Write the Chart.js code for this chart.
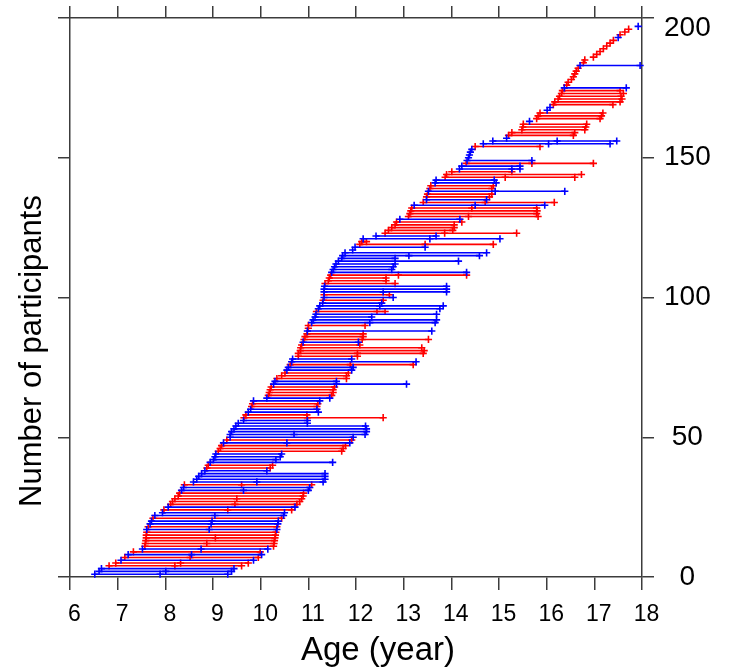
<!DOCTYPE html>
<html lang="en">
<head>
<meta charset="UTF-8">
<meta name="viewport" content="width=device-width, initial-scale=1.0">
<title>Participants by age</title>
<style>
    body { margin: 0; background-color: #fff; }
    canvas { display: block; }
</style>
<script src="https://cdn.jsdelivr.net/npm/chart.js"></script>
</head>
<body>

<canvas id="ageChart" width="734" height="669"></canvas>

<script>
// one entry per participant, row 1 at the bottom
// F = girls (red), M = boys (blue)
const sex = [
    "M","M","M","F","F","M","F","M","F","M",
    "F","F","F","F","F","F","M","F","M","M",
    "F","M","M","F","M","F","F","F","F","F",
    "M","M","F","M","M","M","M","M","F","F",
    "M","M","M","M","F","F","F","M","F","M",
    "M","M","M","M","M","M","F","F","M","M",
    "F","F","M","M","F","F","F","F","M","M",
    "F","F","F","M","M","F","M","M","F","F",
    "F","F","F","M","F","F","F","M","F","F",
    "M","M","M","M","F","M","M","M","F","M",
    "F","M","M","M","F","F","F","F","M","M",
    "M","M","M","M","M","M","M","M","F","F",
    "M","M","F","F","F","F","F","M","F","F",
    "F","F","M","F","M","F","F","M","F","F",
    "M","M","F","F","F","M","M","F","M","M",
    "M","M","M","F","M","M","M","F","F","F",
    "F","F","M","F","F","F","M","M","F","F",
    "F","F","F","F","M","F","F","F","F","F",
    "F","F","M","F","F","F","F","F","F","F",
    "F","F","M","F","F","F","M"
];

// age at first visit
const firstAge = [
    6.52, 6.61, 6.66, 6.82, 6.96, 7.07, 7.15, 7.22, 7.33, 7.52,
    7.57, 7.58, 7.59, 7.60, 7.60, 7.61, 7.61, 7.64, 7.68, 7.71,
    7.74, 7.78, 7.94, 7.97, 8.06, 8.11, 8.15, 8.20, 8.27, 8.30,
    8.34, 8.38, 8.40, 8.59, 8.66, 8.70, 8.76, 8.83, 8.87, 8.90,
    8.94, 9.01, 9.04, 9.06, 9.11, 9.15, 9.18, 9.22, 9.29, 9.36,
    9.36, 9.39, 9.44, 9.48, 9.53, 9.64, 9.65, 9.69, 9.74, 9.79,
    9.81, 9.83, 9.85, 10.13, 10.16, 10.18, 10.20, 10.22, 10.27, 10.30,
    10.34, 10.44, 10.51, 10.55, 10.58, 10.62, 10.65, 10.67, 10.79, 10.79,
    10.83, 10.84, 10.86, 10.89, 10.91, 10.93, 10.97, 10.98, 11.00, 11.00,
    11.07, 11.10, 11.14, 11.16, 11.17, 11.21, 11.24, 11.30, 11.31, 11.33,
    11.33, 11.33, 11.33, 11.34, 11.35, 11.42, 11.44, 11.47, 11.49, 11.52,
    11.55, 11.58, 11.63, 11.70, 11.72, 11.77, 11.93, 11.98, 12.08, 12.12,
    12.15, 12.42, 12.61, 12.68, 12.75, 12.82, 12.85, 12.92, 13.10, 13.13,
    13.15, 13.17, 13.22, 13.41, 13.48, 13.48, 13.50, 13.52, 13.55, 13.57,
    13.66, 13.68, 13.87, 13.90, 14.01, 14.17, 14.22, 14.31, 14.33, 14.36,
    14.38, 14.40, 14.43, 14.50, 14.67, 14.87, 15.16, 15.20, 15.27, 15.48,
    15.50, 15.51, 15.64, 15.79, 15.82, 15.86, 16.01, 16.07, 16.14, 16.17,
    16.24, 16.27, 16.31, 16.33, 16.37, 16.42, 16.45, 16.52, 16.56, 16.59,
    16.62, 16.66, 16.70, 16.77, 16.80, 16.98, 17.05, 17.12, 17.19, 17.26,
    17.33, 17.40, 17.50, 17.54, 17.64, 17.72, 17.92
];

// age at a middle visit (null = none)
const midAge = [
    7.89, 8.01, null, 8.20, 8.32, null, 8.52, 8.55, null, 8.75,
    null, 8.87, null, 9.05, null, null, 8.92, null, 8.96, 8.98,
    null, 9.04, null, 9.31, null, 9.46, null, 9.50, null, null,
    9.64, null, 9.60, 9.92, null, null, null, null, null, null,
    null, null, null, null, null, null, null, 10.55, null, null,
    10.70, null, null, null, null, null, 10.98, null, null, null,
    null, null, null, null, null, null, null, null, 11.59, null,
    null, null, null, null, null, 11.88, null, null, null, 12.03,
    null, null, null, null, 12.13, null, null, null, null, null,
    12.29, null, null, null, 12.44, null, 12.50, null, null, null,
    null, 12.57, null, null, null, null, null, 12.89, null, null,
    null, null, null, null, 13.11, null, null, null, 13.45, null,
    13.55, null, 13.86, null, null, null, null, null, 14.36, null,
    null, 14.43, 14.50, 14.71, null, null, null, 14.92, null, null,
    null, null, 15.13, null, null, 15.27, null, 15.69, null, null,
    null, null, null, null, 16.04, 16.22, null, null, null, null,
    null, null, null, null, null, null, null, null, null, null,
    null, null, null, null, null, null, null, null, null, null,
    null, null, null, null, null, null, null, null, null, null,
    null, null, null, null, null, null, null
];

// age at last visit (null = seen once)
const lastAge = [
    9.31, 9.39, 9.44, 9.60, 9.74, 9.85, 9.95, 10.02, 9.99, 10.15,
    10.27, 10.28, 10.29, 10.30, 10.31, 10.32, 10.34, 10.34, 10.36, 10.37,
    10.44, 10.48, 10.50, 10.65, 10.72, 10.76, 10.82, 10.86, 10.89, 10.90,
    11.00, 11.03, 11.07, 11.31, 11.35, 11.35, 11.35, 10.13, 10.20, 10.25,
    11.51, 10.32, 10.41, 10.44, 11.70, 11.73, 11.78, 11.87, 11.91, 11.94,
    12.19, 12.22, 12.22, 12.20, 10.98, 10.98, 12.57, 10.97, 11.21, 11.18,
    11.18, 11.20, 11.24, 11.45, 11.49, 11.52, 11.52, 11.55, 13.06, 11.59,
    11.80, 11.80, 11.84, 11.91, 11.94, 13.20, 13.26, 11.91, 12.03, 13.41,
    13.43, 13.38, 12.08, 12.05, 13.52, 12.15, 12.15, 13.59, null, 12.19,
    13.66, 13.69, 12.33, 13.69, 12.61, 13.76, 13.83, 12.54, 12.57, 12.78,
    12.70, 13.90, 13.90, 13.90, 12.82, 12.63, 12.63, 14.32, 14.32, 12.75,
    12.78, 12.82, 14.15, 12.82, 14.59, 14.74, null, 13.45, 14.88, 12.22,
    15.02, 13.68, 15.37, 14.03, 14.06, 14.06, 14.22, 14.18, 15.82, 15.79,
    15.80, 15.79, 15.96, 16.16, 14.74, 14.80, 14.85, 16.38, 14.85, 14.88,
    14.94, 14.90, 16.59, 16.73, 15.27, 15.44, 15.44, 16.98, 15.69, null,
    null, null, null, 15.86, 17.33, 17.47, null, 16.56, 16.59, 16.80,
    16.82, 16.84, null, 17.12, 17.15, 17.18, null, null, 17.39, 17.54,
    17.58, 17.56, 17.61, 17.54, 17.67, null, null, null, null, null,
    null, null, 17.96, null, null, null, null, null, null, null,
    null, null, null, null, null, null, null
];

const ageTicks = [6, 7, 8, 9, 10, 11, 12, 13, 14, 15, 16, 17, 18];
const countTicks = [0, 50, 100, 150, 200];
const xTitle = "Age (year)";
const yTitle = "Number of participants";

const RED = "rgb(255,0,0)";
const BLUE = "rgb(0,0,255)";
const AXIS = "#3c3c3c";
const FONT = "'Liberation Sans', Arial, sans-serif";

// each participant is one run of points on its row, then a gap
function buildSeries(code) {
    const pts = [];
    sex.forEach((s, i) => {
        if (s !== code) return;
        const row = i + 1;
        pts.push({ x: firstAge[i], y: row });
        if (midAge[i] !== null) pts.push({ x: midAge[i], y: row });
        if (lastAge[i] !== null) pts.push({ x: lastAge[i], y: row });
        pts.push({ x: firstAge[i], y: null });
    });
    return pts;
}

function series(label, code, color) {
    return {
        label: label,
        data: buildSeries(code),
        showLine: true,
        spanGaps: false,
        borderColor: color,
        backgroundColor: color,
        borderWidth: 1.6,
        pointStyle: "cross",
        pointRadius: 3.6,
        pointBorderWidth: 1.6,
        pointBorderColor: color,
        clip: false
    };
}

function setTicks(values) {
    return scale => { scale.ticks = values.map(v => ({ value: v })); };
}

const frame = { color: AXIS, width: 1.5 };
const marks = len => ({ drawOnChartArea: false, drawTicks: true, tickLength: len, color: AXIS, lineWidth: 1.5 });

// axis titles sit off-centre in the original, so place them by hand
const axisTitles = {
    id: "axisTitles",
    afterDraw(chart) {
        const ctx = chart.ctx;
        ctx.save();
        ctx.fillStyle = "#000";
        ctx.textAlign = "center";
        ctx.textBaseline = "alphabetic";
        ctx.font = "33px " + FONT;
        ctx.fillText(xTitle, 378, 660);
        ctx.translate(41, 351);
        ctx.rotate(-Math.PI / 2);
        ctx.font = "31px " + FONT;
        ctx.fillText(yTitle, 0, 0);
        ctx.restore();
    }
};

new Chart(document.getElementById("ageChart"), {
    type: "scatter",
    data: {
        datasets: [
            series("Boys", "M", BLUE),
            series("Girls", "F", RED)
        ]
    },
    options: {
        responsive: false,
        animation: false,
        events: [],
        layout: { padding: 0 },
        plugins: {
            legend: { display: false },
            tooltip: { enabled: false }
        },
        scales: {
            x: {
                type: "linear", position: "bottom", min: 6, max: 18,
                afterBuildTicks: setTicks(ageTicks),
                ticks: { font: { family: FONT, size: 23 }, color: "#000", padding: 11, labelOffset: 4.5, maxRotation: 0, autoSkip: false },
                grid: marks(13),
                border: frame,
                afterFit: s => { s.height = 92; }
            },
            xTop: {
                type: "linear", position: "top", min: 6, max: 18,
                afterBuildTicks: setTicks(ageTicks),
                ticks: { display: false },
                grid: marks(12),
                border: frame,
                afterFit: s => { s.height = 18; }
            },
            y: {
                type: "linear", position: "left", min: 0, max: 200,
                afterBuildTicks: setTicks(countTicks),
                ticks: { display: false },
                grid: marks(12),
                border: frame,
                afterFit: s => { s.width = 70; s.paddingTop = 0; s.paddingBottom = 0; }
            },
            yRight: {
                type: "linear", position: "right", min: 0, max: 200,
                afterBuildTicks: setTicks(countTicks),
                ticks: {
                    font: { family: FONT, size: 28, lineHeight: 0.72 },
                    color: "#000", padding: 10, crossAlign: "center",
                    // the top label hangs just below its tick in the original
                    callback: v => v === countTicks[countTicks.length - 1] ? ["", String(v)] : String(v)
                },
                grid: marks(12),
                border: frame,
                afterFit: s => { s.width = 92; s.paddingTop = 0; s.paddingBottom = 0; }
            }
        }
    },
    plugins: [axisTitles]
});
</script>

</body>
</html>
